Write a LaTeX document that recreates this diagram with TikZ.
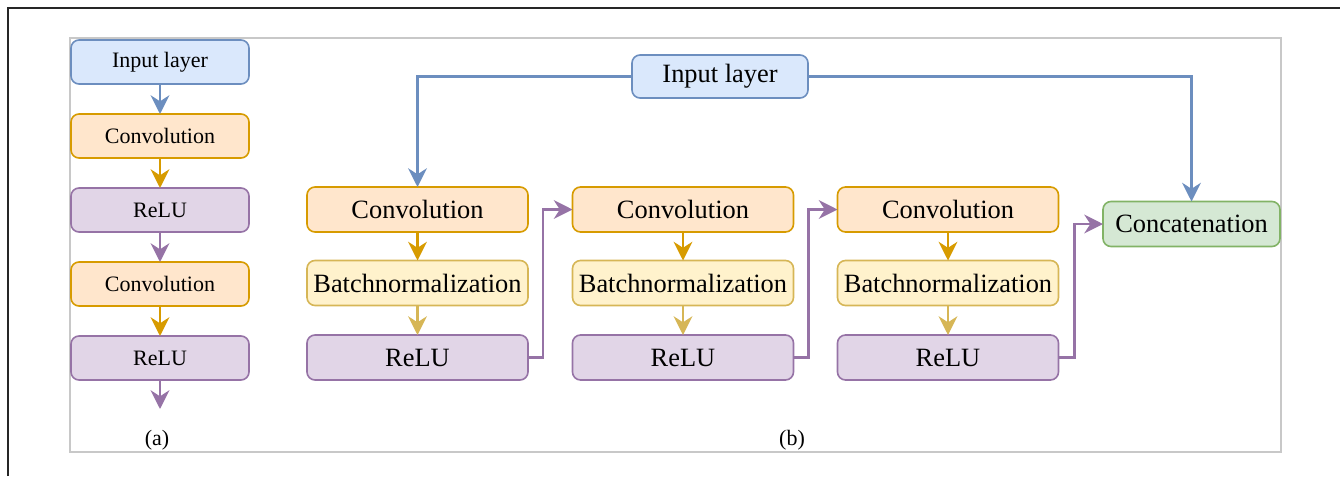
\documentclass[tikz,border=0pt]{standalone}
\usepackage{fontspec}
\setmainfont{Liberation Serif}
\usetikzlibrary{arrows.meta}
\definecolor{bluef}{HTML}{DAE8FC}\definecolor{blued}{HTML}{6C8EBF}
\definecolor{orangef}{HTML}{FFE6CC}\definecolor{oranged}{HTML}{D79B00}
\definecolor{yellowf}{HTML}{FFF2CC}\definecolor{yellowd}{HTML}{D6B656}
\definecolor{purplef}{HTML}{E1D5E7}\definecolor{purpled}{HTML}{9673A6}
\definecolor{greenf}{HTML}{D5E8D4}\definecolor{greend}{HTML}{82B366}
\definecolor{framegray}{HTML}{C8C8C8}
\tikzset{
  box/.style={draw, line width=1.2pt, rounded corners=6pt, inner sep=0pt, outer sep=0pt, align=center, text=black},
  smallbox/.style={box, minimum width=178*0.75pt, minimum height=44*0.75pt, font=\fontsize{16.5pt}{18pt}\selectfont},
  bigbox/.style={box, minimum width=221*0.75pt, minimum height=45*0.75pt, font=\fontsize{19.8pt}{22pt}\selectfont},
  bluebox/.style={fill=bluef, draw=blued},
  orangebox/.style={fill=orangef, draw=oranged},
  yellowbox/.style={fill=yellowf, draw=yellowd},
  purplebox/.style={fill=purplef, draw=purpled},
  greenbox/.style={fill=greenf, draw=greend},
  conn/.style={line width=2.2pt, -{Stealth[length=14pt, width=14pt, inset=4.5pt]}},
  sublabel/.style={font=\fontsize{16.5pt}{18pt}\selectfont, inner sep=0pt}
}
\begin{document}
\begin{tikzpicture}[x=0.75pt, y=-0.75pt]
\useasboundingbox (0,0) rectangle (1340,476);
% outer black border (top and left)
\draw[line width=1.6pt, black!85] (8,476) -- (8,8) -- (1340,8);
% gray frame
\draw[line width=1.2pt, framegray] (70,38) rectangle (1281,452);

% (a) left column
\node[smallbox, bluebox]   (ain)  at (160,62)  {Input layer};
\node[smallbox, orangebox] (ac1)  at (160,136) {Convolution};
\node[smallbox, purplebox] (ar1)  at (160,210) {ReLU};
\node[smallbox, orangebox] (ac2)  at (160,284) {Convolution};
\node[smallbox, purplebox] (ar2)  at (160,358) {ReLU};
\coordinate (aout) at (160,409);
\draw[conn, blued]   (ain) -- (ac1);
\draw[conn, oranged] (ac1) -- (ar1);
\draw[conn, purpled] (ar1) -- (ac2);
\draw[conn, oranged] (ac2) -- (ar2);
\draw[conn, purpled] (ar2) -- (aout);
\node[sublabel] (la) at (157,440) {(a)};

% (b) right part
\node[bigbox, bluebox, minimum width=176*0.75pt, minimum height=43*0.75pt] (bin) at (720,76.5) {Input layer};
\node[bigbox, orangebox] (c1) at (417.5,209.5) {Convolution};
\node[bigbox, yellowbox] (n1) at (417.5,283)   {Batchnormalization};
\node[bigbox, purplebox] (r1) at (417.5,357.5) {ReLU};
\node[bigbox, orangebox] (c2) at (683,209.5)   {Convolution};
\node[bigbox, yellowbox] (n2) at (683,283)     {Batchnormalization};
\node[bigbox, purplebox] (r2) at (683,357.5)   {ReLU};
\node[bigbox, orangebox] (c3) at (948,209.5)   {Convolution};
\node[bigbox, yellowbox] (n3) at (948,283)     {Batchnormalization};
\node[bigbox, purplebox] (r3) at (948,357.5)   {ReLU};
\node[bigbox, greenbox, minimum width=177*0.75pt] (cat) at (1191.5,224) {Concatenation};

\draw[conn, blued] (bin.west) -| (c1.north);
\draw[conn, blued] (bin.east) -| (cat.north);
\foreach \i in {1,2,3}{
  \draw[conn, oranged] (c\i) -- (n\i);
  \draw[conn, yellowd] (n\i) -- (r\i);
}
\draw[conn, purpled] (r1.east) -- ++(15,0) |- (c2.west);
\draw[conn, purpled] (r2.east) -- ++(15,0) |- (c3.west);
\draw[conn, purpled] (r3.east) -- ++(16,0) |- (cat.west);
\node[sublabel] (lb) at (792,440) {(b)};
\end{tikzpicture}
\end{document}
